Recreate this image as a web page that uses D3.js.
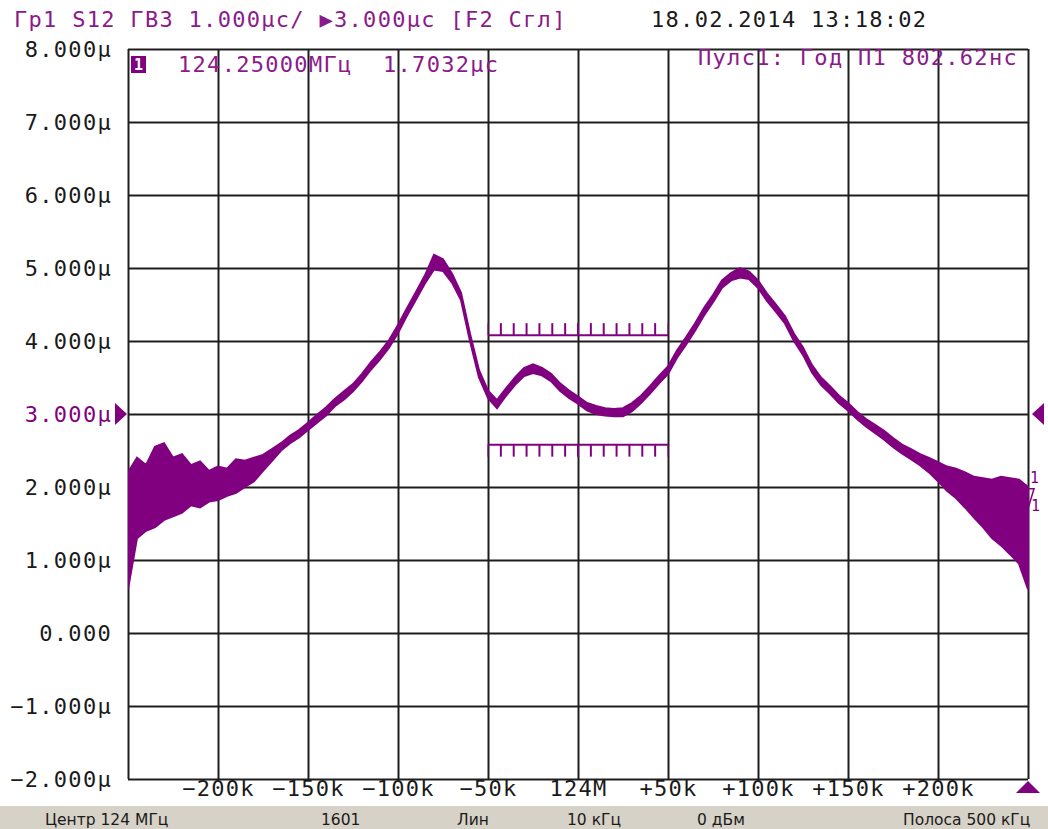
<!DOCTYPE html>
<html>
<head>
<meta charset="utf-8">
<script src="https://cdn.jsdelivr.net/npm/d3@7"></script>
<style>
  html, body { margin: 0; padding: 0; background: #fff; }
  svg { display: block; }
  .mono { font-family: "DejaVu Sans Mono", monospace; font-size: 22px; letter-spacing: 1.3px; }
  .bar { font-family: "DejaVu Sans", sans-serif; font-size: 15.5px; fill: #1a1a1a; }
</style>
</head>
<body>
<svg width="1048" height="829"></svg>
<script>
// sweep points (kHz offset from 124 MHz), 5 kHz apart
var freqKHz = [-250,-245,-240,-235,-230,-225,-220,-215,-210,-205,-200,-195,-190,-185,-180,-175,-170,-165,-160,-155,
  -150,-145,-140,-135,-130,-125,-120,-115,-110,-105,-100,-95,-90,-85,-80,-75,-70,-65,-60,-55,
  -50,-45,-40,-35,-30,-25,-20,-15,-10,-5,0,5,10,15,20,25,30,35,40,45,
  50,55,60,65,70,75,80,85,90,95,100,105,110,115,120,125,130,135,140,145,
  150,155,160,165,170,175,180,185,190,195,200,205,210,215,220,225,230,235,240,245,250];

// group delay, upper and lower edge of the noisy trace (μs)
var traceHi = [2.20,2.40,2.30,2.55,2.60,2.40,2.45,2.30,2.35,2.22,2.28,2.25,2.38,2.36,2.40,2.44,2.52,2.60,2.70,2.78,
  2.88,2.99,3.09,3.21,3.31,3.41,3.55,3.71,3.85,4.01,4.22,4.45,4.67,4.90,5.18,5.12,4.92,4.66,4.10,3.60,
  3.32,3.19,3.35,3.50,3.63,3.68,3.63,3.55,3.42,3.32,3.24,3.15,3.11,3.08,3.07,3.08,3.15,3.25,3.38,3.52,
  3.65,3.87,4.05,4.24,4.45,4.63,4.83,4.93,5.00,4.95,4.83,4.65,4.50,4.34,4.10,3.91,3.67,3.50,3.38,3.25,
  3.15,3.03,2.93,2.85,2.77,2.67,2.58,2.52,2.45,2.40,2.34,2.28,2.25,2.20,2.14,2.12,2.10,2.14,2.12,2.10,2.00];
var traceLo = [0.60,1.30,1.40,1.45,1.55,1.60,1.65,1.75,1.72,1.80,1.82,1.88,1.92,2.00,2.08,2.22,2.36,2.50,2.60,2.68,
  2.78,2.88,2.98,3.11,3.20,3.31,3.45,3.61,3.75,3.91,4.11,4.35,4.57,4.79,4.98,4.96,4.80,4.56,4.00,3.50,
  3.22,3.08,3.25,3.40,3.52,3.56,3.53,3.45,3.32,3.22,3.14,3.05,3.00,2.98,2.97,2.97,3.04,3.15,3.28,3.42,
  3.55,3.77,3.95,4.14,4.35,4.53,4.73,4.83,4.87,4.85,4.73,4.55,4.40,4.24,4.00,3.81,3.57,3.40,3.28,3.15,
  3.05,2.93,2.83,2.74,2.65,2.55,2.46,2.38,2.30,2.20,2.08,1.95,1.85,1.72,1.58,1.45,1.30,1.20,1.08,0.95,0.60];

var xTicks = [-250,-200,-150,-100,-50,0,50,100,150,200,250];
var xTickLabels = ["","\u2212200k","\u2212150k","\u2212100k","\u221250k","124M","+50k","+100k","+150k","+200k",""];
var yTicks = [-2,-1,0,1,2,3,4,5,6,7,8];
var yTickLabels = ["\u22122.000\u03bc","\u22121.000\u03bc","0.000","1.000\u03bc","2.000\u03bc","3.000\u03bc",
  "4.000\u03bc","5.000\u03bc","6.000\u03bc","7.000\u03bc","8.000\u03bc"];

// limit lines of the pulse test
var limitFrom = -50, limitTo = 50;
var upperLimit = 4.08, lowerLimit = 2.58;
var refLevel = 3;
var marker1 = { f: 250, v: 1.7032 };

var statusItems = [
  { x: 45, t: "Центр 124 МГц" },
  { x: 321, t: "1601" },
  { x: 457, t: "Лин" },
  { x: 567, t: "10 кГц" },
  { x: 697, t: "0 дБм" },
  { x: 903, t: "Полоса 500 кГц" }
];

var purple = "#800080";
var svg = d3.select("svg");
var L = 128, R = 1028, T = 49, B = 779;

var x = d3.scaleLinear().domain([-250, 250]).range([L, R]);
var y = d3.scaleLinear().domain([-2, 8]).range([B, T]);

// grid
var gx = svg.append("g").attr("transform", "translate(0," + B + ")")
  .call(d3.axisBottom(x).tickValues(xTicks).tickSize(-(B - T)).tickPadding(5)
    .tickFormat(function(d, i) { return xTickLabels[i]; }));
gx.select(".domain").remove();
gx.selectAll("line").attr("stroke", "#1e1e1e").attr("stroke-width", 2);
gx.selectAll("text").attr("class", "mono").attr("fill", "#1a1a1a").attr("font-size", null)
  .attr("font-family", null).attr("dy", "0.55em");

var gy = svg.append("g").attr("transform", "translate(" + L + ",0)")
  .call(d3.axisLeft(y).tickValues(yTicks).tickSize(-(R - L)).tickPadding(16)
    .tickFormat(function(d, i) { return yTickLabels[i]; }));
gy.select(".domain").remove();
gy.selectAll("line").attr("stroke", "#1e1e1e").attr("stroke-width", 2);
gy.selectAll("text").attr("class", "mono").attr("font-size", null).attr("font-family", null)
  .attr("fill", function(d) { return d === refLevel ? purple : "#1a1a1a"; });

// trace
var pts = freqKHz.map(function(f, i) { return { f: f, hi: traceHi[i], lo: traceLo[i] }; });
svg.append("clipPath").attr("id", "clip").append("rect")
  .attr("x", L).attr("y", T).attr("width", R - L + 1).attr("height", B - T);
svg.append("path").datum(pts)
  .attr("clip-path", "url(#clip)")
  .attr("fill", purple).attr("stroke", purple).attr("stroke-width", 2)
  .attr("d", d3.area().x(function(d) { return x(d.f); })
    .y0(function(d) { return y(d.lo); }).y1(function(d) { return y(d.hi); }));

// limit lines
var limTicks = d3.range(0, 15).map(function(i) { return limitFrom + i * (limitTo - limitFrom) / 14; });
[[upperLimit, -1], [lowerLimit, 1]].forEach(function(l) {
  var g = svg.append("g").attr("stroke", purple).attr("stroke-width", 2);
  g.append("line").attr("x1", x(limitFrom)).attr("x2", x(limitTo))
    .attr("y1", y(l[0])).attr("y2", y(l[0]));
  g.selectAll(".t").data(limTicks).enter().append("line")
    .attr("x1", function(d) { return x(d); }).attr("x2", function(d) { return x(d); })
    .attr("y1", y(l[0])).attr("y2", y(l[0]) + l[1] * 12)
    .attr("stroke-opacity", function(d, i) { return (i === 0 || i === 14) ? 0.45 : 1; });
});

// reference level arrows
var ry = y(refLevel);
svg.append("path").attr("fill", purple)
  .attr("d", "M" + (L - 13) + "," + (ry - 11) + "L" + (L - 1) + "," + ry + "L" + (L - 13) + "," + (ry + 11) + "Z");
svg.append("path").attr("fill", purple)
  .attr("d", "M" + (R + 16) + "," + (ry - 11) + "L" + (R + 4) + "," + ry + "L" + (R + 16) + "," + (ry + 11) + "Z");
// sweep position arrow
svg.append("path").attr("fill", purple)
  .attr("d", "M" + (R - 12) + "," + (B + 14) + "L" + R + "," + (B + 2) + "L" + (R + 12) + "," + (B + 14) + "Z");

// marker 1
var mx = x(marker1.f), my = y(marker1.v);
svg.append("text").attr("x", mx + 2).attr("y", my - 26).attr("fill", purple)
  .attr("font-family", "DejaVu Sans Mono").attr("font-size", 15).text("1");
svg.append("path").attr("fill", "none").attr("stroke", purple).attr("stroke-width", 1.5)
  .attr("d", "M" + (mx - 6) + "," + (my - 20) + "L" + (mx + 6) + "," + (my - 20) + "L" + mx + "," + my + "Z");
svg.append("text").attr("x", mx + 3).attr("y", my + 2).attr("fill", purple)
  .attr("font-family", "DejaVu Sans Mono").attr("font-size", 15).text("1");

// header
svg.append("text").attr("class", "mono").attr("x", 14).attr("y", 27).attr("fill", "#8b1a8b")
  .text("Гр1 S12 ГВЗ 1.000μс/ ▶3.000μс [F2 Сгл]");
svg.append("text").attr("class", "mono").attr("x", 651).attr("y", 27).attr("fill", "#1a1a1a")
  .text("18.02.2014 13:18:02");

// marker readout
svg.append("rect").attr("x", 131).attr("y", 56).attr("width", 15).attr("height", 17).attr("fill", purple);
svg.append("text").attr("x", 138.5).attr("y", 70).attr("text-anchor", "middle").attr("fill", "#fff")
  .attr("font-family", "DejaVu Sans Mono").attr("font-size", 15).attr("font-weight", "bold").text("1");
svg.append("text").attr("class", "mono").attr("x", 178).attr("y", 72).attr("fill", "#8b1a8b")
  .text("124.25000МГц");
svg.append("text").attr("class", "mono").attr("x", 383).attr("y", 72).attr("fill", "#8b1a8b")
  .text("1.7032μс");
svg.append("text").attr("class", "mono").attr("x", 1018).attr("y", 65).attr("text-anchor", "end")
  .attr("fill", "#8b1a8b").text("Пулс1: Год П1 802.62нс");

// status bar
svg.append("rect").attr("x", 0).attr("y", 806).attr("width", 1048).attr("height", 23).attr("fill", "#d6d2c8");
svg.selectAll(".bar").data(statusItems).enter().append("text").attr("class", "bar")
  .attr("x", function(d) { return d.x; }).attr("y", 825).text(function(d) { return d.t; });
</script>
</body>
</html>
